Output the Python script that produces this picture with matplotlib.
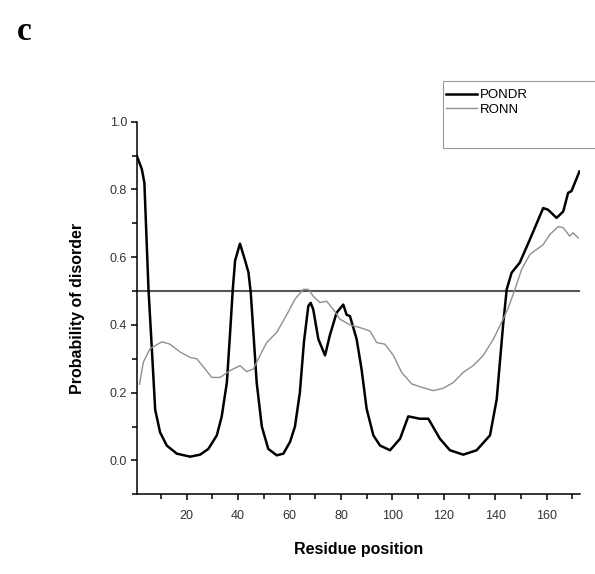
import numpy as np
import matplotlib
matplotlib.use("Agg")
import matplotlib.pyplot as plt
from matplotlib.patches import Rectangle
from matplotlib.ticker import MultipleLocator

plt.rcParams['font.family'] = ['Liberation Sans', 'DejaVu Sans']

# PONDR prediction
pondr_x = [0.5, 2.5, 3.5, 5.1, 6.4, 7.7, 9.6, 12.2, 16.1, 21.3,
           25.2, 28.4, 31.7, 33.6, 35.6, 36.8, 37.9, 38.8, 40.7, 42.7,
           44.0, 44.9, 45.9, 47.2, 49.2, 51.7, 55.0, 57.6, 60.2, 62.1,
           64.0, 65.6, 67.3, 68.2, 69.2, 71.2, 73.8, 75.7, 78.3, 80.9,
           82.2, 83.5, 86.1, 88.0, 90.0, 92.6, 95.2, 99.1, 103.0, 106.2,
           110.7, 114.0, 118.5, 122.4, 127.6, 132.8, 138.0, 140.6, 143.1, 144.5,
           146.4, 149.6, 153.5, 158.7, 160.6, 163.9, 166.5, 168.4, 169.7, 172.8]
pondr_y = [0.90, 0.86, 0.82, 0.505, 0.33, 0.15, 0.083, 0.044, 0.02, 0.011,
           0.017, 0.034, 0.074, 0.13, 0.23, 0.37, 0.505, 0.59, 0.64, 0.59,
           0.555, 0.495, 0.38, 0.23, 0.10, 0.034, 0.015, 0.02, 0.055, 0.10,
           0.20, 0.35, 0.456, 0.465, 0.446, 0.358, 0.31, 0.37, 0.436, 0.46,
           0.43, 0.426, 0.358, 0.27, 0.152, 0.074, 0.044, 0.03, 0.064, 0.13,
           0.123, 0.123, 0.064, 0.03, 0.017, 0.03, 0.074, 0.18, 0.40, 0.505,
           0.554, 0.584, 0.652, 0.745, 0.74, 0.716, 0.735, 0.79, 0.795, 0.853]

# RONN prediction
ronn_x = [1.6, 3.1, 5.7, 10.3, 13.5, 17.4, 21.3, 23.9, 27.1, 29.7,
          33.0, 36.8, 40.7, 43.3, 45.9, 48.5, 51.1, 55.0, 58.9, 62.1,
          65.4, 67.3, 69.2, 71.8, 74.4, 77.0, 79.6, 83.5, 87.4, 91.3,
          93.9, 97.1, 100.4, 103.6, 107.5, 111.4, 115.9, 119.8, 123.7, 127.6,
          131.5, 135.4, 139.3, 142.5, 145.1, 147.7, 150.3, 153.5, 158.7, 161.3,
          164.5, 166.5, 169.0, 170.3, 172.3]
ronn_y = [0.225, 0.29, 0.33, 0.35, 0.343, 0.32, 0.304, 0.30, 0.27, 0.245,
          0.245, 0.265, 0.28, 0.262, 0.27, 0.31, 0.348, 0.378, 0.43, 0.476,
          0.505, 0.505, 0.485, 0.466, 0.47, 0.446, 0.417, 0.40, 0.392, 0.382,
          0.348, 0.343, 0.31, 0.26, 0.226, 0.216, 0.206, 0.213, 0.23, 0.26,
          0.28, 0.31, 0.358, 0.407, 0.45, 0.505, 0.564, 0.608, 0.637, 0.667,
          0.69, 0.687, 0.662, 0.672, 0.657]

threshold = 0.5
x_range = (0.5, 173)

fig = plt.figure(figsize=(5.95, 5.74), dpi=100)
ax = fig.add_axes([0.2297, 0.1389, 0.745, 0.6491])

ax.plot(x_range, [threshold, threshold], color='#555555', lw=1.5)
ax.plot(pondr_x, pondr_y, color='black', lw=1.8, label='PONDR')
ax.plot(ronn_x, ronn_y, color='#8f8f8f', lw=1.0, label='RONN')

ax.set_xlim(*x_range)
ax.set_ylim(-0.1, 1.0)
ax.xaxis.set_major_locator(MultipleLocator(20))
ax.xaxis.set_minor_locator(MultipleLocator(10))
ax.yaxis.set_major_locator(MultipleLocator(0.2))
ax.yaxis.set_minor_locator(MultipleLocator(0.1))
ax.set_xticks([20, 40, 60, 80, 100, 120, 140, 160])
ax.set_yticks([0.0, 0.2, 0.4, 0.6, 0.8, 1.0])
ax.yaxis.set_major_formatter(matplotlib.ticker.FormatStrFormatter('%.1f'))

for side in ['top', 'right']:
    ax.spines[side].set_visible(False)
for side in ['left', 'bottom']:
    ax.spines[side].set_linewidth(1.1)

ax.tick_params(which='major', direction='out', length=4, width=1.1,
               labelsize=9, labelcolor='#333333', pad=3)
ax.tick_params(which='minor', direction='out', length=3.5, width=1.1)
ax.tick_params(axis='x', which='major', pad=7)

ax.set_xlabel('Residue position', fontsize=11.5, fontweight='bold', labelpad=15)
ax.set_ylabel('Probability of disorder', fontsize=11.5, fontweight='bold', labelpad=18)

# legend box running off the right edge
fig.patches.append(Rectangle((0.7445, 0.742), 0.3, 0.117, transform=fig.transFigure,
                             fill=False, edgecolor='#999999', lw=0.8))
ax.legend(loc='upper left', bbox_to_anchor=(0.749, 0.845), bbox_transform=fig.transFigure,
          frameon=False, fontsize=9.5, handlelength=2.4, handletextpad=0.2,
          labelspacing=0.2, borderpad=0, borderaxespad=0)

fig.text(0.04, 0.945, 'c', family='Liberation Serif', fontsize=24, fontweight='bold',
         ha='center', va='center')

fig.savefig('out.png', dpi=100)
